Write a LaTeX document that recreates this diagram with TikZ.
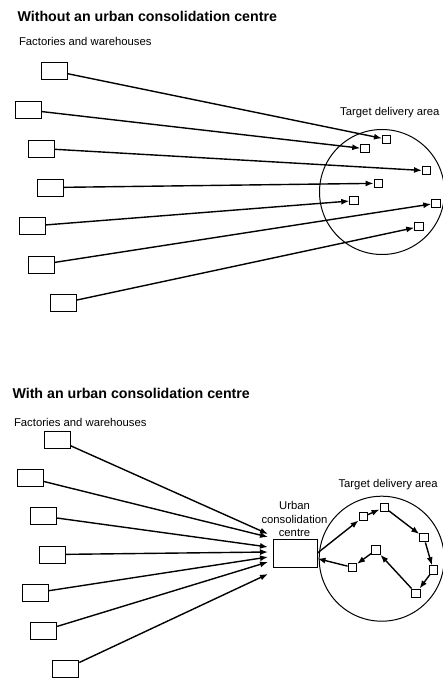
\documentclass[tikz,border=0pt]{standalone}
\usepackage{fontspec}
\setmainfont{Liberation Sans}
\usetikzlibrary{arrows.meta}
\tikzset{
  src/.style={draw, line width=1pt, minimum width=26pt, minimum height=17pt, inner sep=0pt},
  dst/.style={draw, line width=1pt, minimum size=8.5pt, inner sep=0pt},
  hub/.style={draw, line width=1pt, minimum width=44pt, minimum height=28pt, inner sep=0pt},
  zone/.style={draw, circle, line width=1pt, minimum size=125pt, inner sep=0pt},
  heading/.style={anchor=west, font=\fontsize{14.2}{16}\selectfont\bfseries},
  lbl/.style={font=\fontsize{11.3}{13.8}\selectfont},
}
\begin{document}
\begin{tikzpicture}[x=1pt, y=-1pt, line width=1.4pt, >={Latex[length=8pt,width=6pt]}]
\useasboundingbox (0, 0) rectangle (443, 678);
\node[heading](title1) at (13.5, 16) {Without an urban consolidation centre};
\node[lbl, anchor=west](fw1) at (15, 41) {Factories and warehouses};
\node[lbl, anchor=east](ta1) at (443.5, 113) {Target delivery area};
\node[zone](c1) at (382, 192) {};
\node[src](w1) at (54.5, 71) {};
\node[src](w2) at (28, 110) {};
\node[src](w3) at (41, 148.5) {};
\node[src](w4) at (50, 187.5) {};
\node[src](w5) at (32, 226) {};
\node[src](w6) at (41, 264.5) {};
\node[src](w7) at (63, 303) {};
\node[dst](t1) at (386.7, 139.3) {};
\node[dst](t2) at (365, 148.7) {};
\node[dst](t3) at (426.7, 170.7) {};
\node[dst](t4) at (378.3, 183.3) {};
\node[dst](t5) at (354, 200.7) {};
\node[dst](t6) at (436, 203.3) {};
\node[dst](t7) at (419, 226.7) {};
\draw[->] (w1) -- (t1);
\draw[->] (w2) -- (t2);
\draw[->] (w3) -- (t3);
\draw[->] (w4) -- (t4);
\draw[->] (w5) -- (t5);
\draw[->] (w6) -- (t6);
\draw[->] (w7) -- (t7);
\node[heading](title2) at (8.5, 393.5) {With an urban consolidation centre};
\node[lbl, anchor=west](fw2) at (10, 422) {Factories and warehouses};
\node[lbl, anchor=west](ta2) at (334.5, 484.5) {Target delivery area};
\node[zone](c2) at (381.7, 558.7) {};
\node[src](v1) at (57.3, 439.8) {};
\node[src](v2) at (30.5, 478.2) {};
\node[src](v3) at (43.7, 516.2) {};
\node[src](v4) at (52.7, 554.5) {};
\node[src](v5) at (35.2, 592.8) {};
\node[src](v6) at (43.7, 630.5) {};
\node[src](v7) at (65.8, 668.8) {};
\node[hub](ucc) at (295, 553) {};
\node[lbl, align=center](ucclbl) at (294.5, 519) {Urban\\consolidation\\centre};
\coordinate (e1) at (268, 534);
\coordinate (e2) at (268, 537);
\coordinate (e3) at (268, 547);
\coordinate (e4) at (268, 552);
\coordinate (e5) at (268, 557);
\coordinate (e6) at (268, 562);
\coordinate (e7) at (268, 574);
\draw[->] (v1) -- (e1);
\draw[->] (v2) -- (e2);
\draw[->] (v3) -- (e3);
\draw[->] (v4) -- (e4);
\draw[->] (v5) -- (e5);
\draw[->] (v6) -- (e6);
\draw[->] (v7) -- (e7);
\node[dst](s1) at (363.3, 516.7) {};
\node[dst](s2) at (384.3, 507.3) {};
\node[dst](s3) at (424, 537.7) {};
\node[dst](s4) at (433.3, 570) {};
\node[dst](s5) at (416, 593.3) {};
\node[dst](s6) at (376, 550) {};
\node[dst](s7) at (352.3, 567.3) {};
\draw[->] (ucc.east) -- (s1);
\draw[->] (s1) -- (s2);
\draw[->] (s2) -- (s3);
\draw[->] (s3) -- (s4);
\draw[->] (s4) -- (s5);
\draw[->] (s5) -- (s6);
\draw[->] (s6) -- (s7);
\draw[->] (s7) -- (ucc);
\end{tikzpicture}
\end{document}
